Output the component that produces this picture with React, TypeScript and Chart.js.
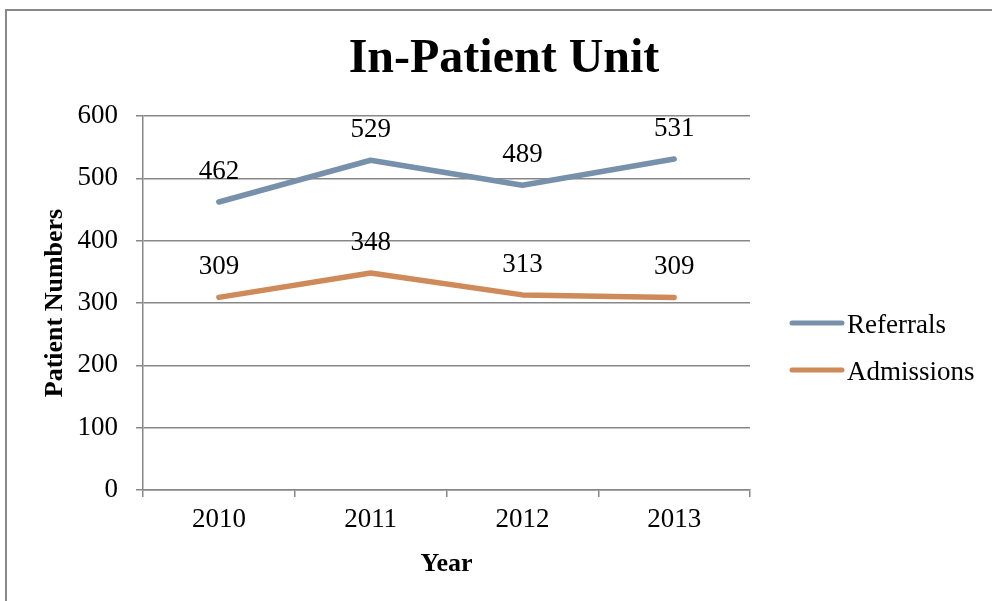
import React, { useEffect, useRef } from "react";
import { Chart, registerables } from "chart.js";

Chart.register(...registerables);

const years = ["2010", "2011", "2012", "2013"];
const referrals = [462, 529, 489, 531];
const admissions = [309, 348, 313, 309];
const yTicks = [0, 100, 200, 300, 400, 500, 600];

const SERIF = "'Liberation Serif', 'Times New Roman', serif";
const GRID = "#878787";
const REF_COLOR = "#7891aa";
const ADM_COLOR = "#cf8a5a";

const decorPlugin = {
  id: "decor",
  beforeDraw(chart: any) {
    const ctx = chart.ctx;
    ctx.save();
    ctx.strokeStyle = "#888888";
    ctx.lineWidth = 2;
    ctx.beginPath();
    ctx.moveTo(6, 601);
    ctx.lineTo(6, 10);
    ctx.lineTo(992, 10);
    ctx.stroke();
    ctx.restore();
  },
  afterDraw(chart: any) {
    const ctx = chart.ctx;
    const area = chart.chartArea;
    ctx.save();
    ctx.fillStyle = "#000";
    ctx.textBaseline = "alphabetic";
    // title
    ctx.font = `bold 48px ${SERIF}`;
    ctx.textAlign = "center";
    ctx.fillText("In-Patient Unit", 504, 72);
    // x title
    ctx.font = `bold 26px ${SERIF}`;
    ctx.fillText("Year", (area.left + area.right) / 2, 571);
    // y title
    ctx.save();
    ctx.translate(62, (area.top + area.bottom) / 2);
    ctx.rotate(-Math.PI / 2);
    ctx.font = `bold 26px ${SERIF}`;
    ctx.fillText("Patient Numbers", 0, 0);
    ctx.restore();
    // legend
    const items = chart.data.datasets.map((d: any) => ({ label: d.label, color: d.borderColor }));
    const rows = [323, 370];
    items.forEach((it: any, i: number) => {
      const y = rows[i];
      ctx.strokeStyle = it.color;
      ctx.lineWidth = 5;
      ctx.lineCap = "round";
      ctx.beginPath();
      ctx.moveTo(792, y);
      ctx.lineTo(842, y);
      ctx.stroke();
      ctx.font = `27px ${SERIF}`;
      ctx.textAlign = "left";
      ctx.fillStyle = "#000";
      ctx.fillText(it.label, 847, y + 10);
    });
    ctx.restore();
  },
  afterDatasetsDraw(chart: any) {
    const ctx = chart.ctx;
    ctx.save();
    ctx.font = `27px ${SERIF}`;
    ctx.fillStyle = "#000";
    ctx.textAlign = "center";
    ctx.textBaseline = "alphabetic";
    chart.data.datasets.forEach((ds: any, i: number) => {
      const meta = chart.getDatasetMeta(i);
      meta.data.forEach((pt: any, j: number) => {
        ctx.fillText(String(ds.data[j]), pt.x, pt.y - 23);
      });
    });
    ctx.restore();
  },
};

export default function App() {
  const ref = useRef<HTMLCanvasElement>(null);
  useEffect(() => {
    if (!ref.current) return;
    const chart = new Chart(ref.current, {
      type: "line",
      data: {
        labels: years,
        datasets: [
          {
            label: "Referrals",
            data: referrals,
            borderColor: REF_COLOR,
            backgroundColor: REF_COLOR,
            borderWidth: 5.5,
            pointRadius: 0,
            tension: 0,
            borderCapStyle: "round",
            borderJoinStyle: "round",
          },
          {
            label: "Admissions",
            data: admissions,
            borderColor: ADM_COLOR,
            backgroundColor: ADM_COLOR,
            borderWidth: 5.5,
            pointRadius: 0,
            tension: 0,
            borderCapStyle: "round",
            borderJoinStyle: "round",
          },
        ],
      },
      options: {
        animation: false,
        responsive: false,
        devicePixelRatio: 1,
        layout: { padding: { left: 0, top: 116, right: 242, bottom: 0 } },
        plugins: {
          legend: { display: false },
          title: { display: false },
          tooltip: { enabled: false },
        },
        scales: {
          x: {
            type: "category",
            offset: true,
            grid: {
              offset: true,
              drawOnChartArea: false,
              drawTicks: true,
              tickLength: 7,
              color: GRID,
              lineWidth: 1.5,
            },
            border: { display: true, color: GRID, width: 1.5 },
            ticks: {
              color: "#000",
              font: { family: SERIF, size: 27 },
              padding: 7,
              maxRotation: 0,
            },
            afterFit(scale: any) {
              scale.height = 111;
            },
          },
          y: {
            min: 0,
            max: 600,
            afterBuildTicks(scale: any) {
              scale.ticks = yTicks.map((v) => ({ value: v }));
            },
            grid: {
              color: GRID,
              lineWidth: 1.5,
              drawTicks: true,
              tickLength: 7,
            },
            border: { display: true, color: GRID, width: 1.5 },
            ticks: {
              color: "#000",
              font: { family: SERIF, size: 27 },
              padding: 18,
            },
            afterFit(scale: any) {
              scale.width = 143;
            },
          },
        },
      },
      plugins: [decorPlugin],
    } as any);
    return () => chart.destroy();
  }, []);
  return (
    <div style={{ position: "fixed", left: 0, top: 0, width: 992, height: 601, background: "#fff" }}>
      <canvas ref={ref} width={992} height={601} style={{ display: "block" }} />
    </div>
  );
}
